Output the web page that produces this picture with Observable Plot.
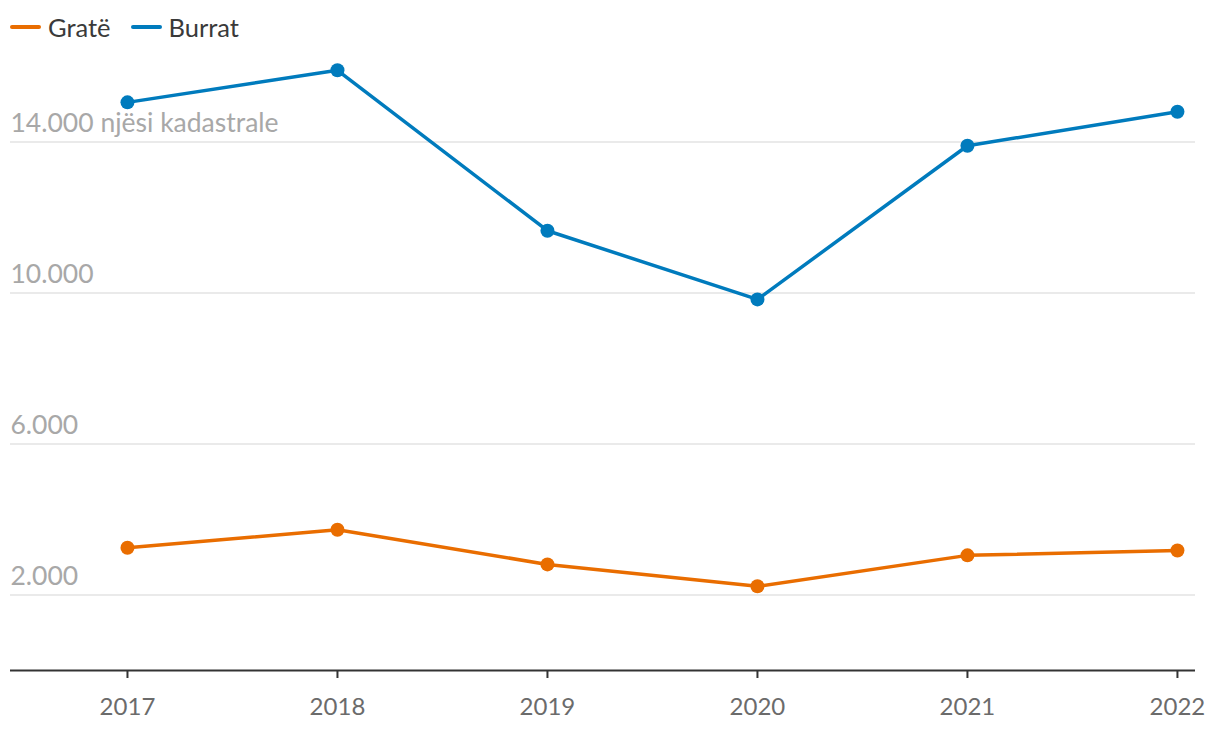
<!DOCTYPE html>
<html><head><meta charset="utf-8">
<script src="https://cdn.jsdelivr.net/npm/d3@7"></script>
<script src="https://cdn.jsdelivr.net/npm/@observablehq/plot@0.6"></script>
<style>
body{margin:0;background:#fff;font-family:Lato,sans-serif;}
#legend{box-sizing:border-box;height:50px;padding-top:4px;display:flex;align-items:center;padding-left:10px;font-size:25.5px;color:#3a3a3a;}
.item{display:flex;align-items:center;margin-right:20px;}
.sw{width:31px;height:4px;border-radius:2px;margin-right:7px;}
</style></head><body>
<div id="legend"></div>
<div id="chart"></div>
<script>
const years = [2017, 2018, 2019, 2020, 2021, 2022];
const grate = [3250, 3730, 2810, 2230, 3050, 3180];
const burrat = [15050, 15900, 11650, 9830, 13900, 14800];
const series = ["Gratë", "Burrat"];
const colors = ["#e96d00", "#007bbd"];
const yTicks = [2000, 6000, 10000, 14000];
const yTickLabels = ["2.000", "6.000", "10.000", "14.000 njësi kadastrale"];

const data = [];
years.forEach((y, i) => {
  data.push({year: y, value: grate[i], s: series[0]});
  data.push({year: y, value: burrat[i], s: series[1]});
});

document.getElementById("legend").innerHTML = series.map((s, i) =>
  `<div class="item"><div class="sw" style="background:${colors[i]}"></div>${s}</div>`).join("");

const chart = Plot.plot({
  width: 1220, height: 682,
  marginLeft: 10, marginRight: 25, marginTop: 16, marginBottom: 62,
  style: {fontFamily: "Lato, sans-serif", background: "#fff"},
  x: {domain: [2016.443, 2022.086], axis: null, label: null},
  y: {domain: [0, 16000], axis: null, label: null},
  color: {domain: series, range: colors},
  marks: [
    Plot.ruleY(yTicks, {stroke: "#e3e3e3", strokeWidth: 1.5}),
    Plot.text(yTicks, {y: d => d, text: (d, i) => yTickLabels[i], frameAnchor: "left", textAnchor: "start", dy: -18, fontSize: 26.5, fill: "#a8a8a8"}),
    Plot.ruleY([0], {stroke: "#333", strokeWidth: 2}),
    Plot.axisX(years, {anchor: "bottom", label: null, tickSize: 8, tickPadding: 19, tickFormat: d => String(d), fontSize: 24, color: "#6b6b6b", stroke: "#333", strokeWidth: 2}),
    Plot.line(data, {x: "year", y: "value", z: "s", stroke: "s", strokeWidth: 3.5}),
    Plot.dot(data, {x: "year", y: "value", fill: "s", r: 7})
  ]
});
document.getElementById("chart").appendChild(chart);
</script></body></html>
